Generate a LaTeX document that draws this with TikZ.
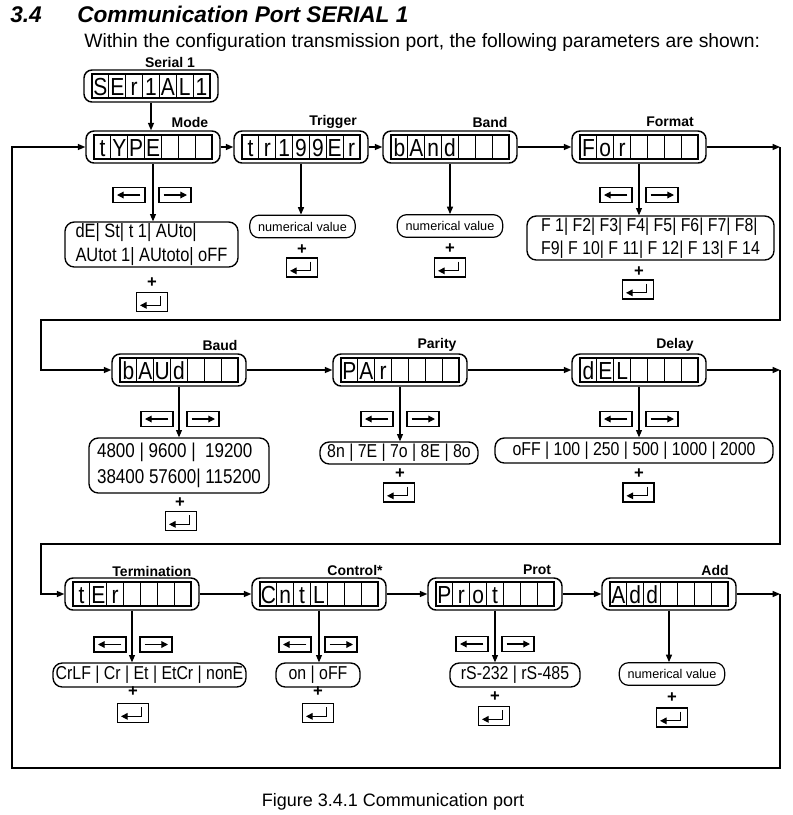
\documentclass[tikz,border=0pt]{standalone}
\usepackage{fontspec}
\setmainfont{Liberation Sans}
\newfontfamily\segfont[FakeStretch=0.85]{Liberation Sans}
\usetikzlibrary{arrows.meta}

\tikzset{
 arr/.style={-{Triangle[length=5.5pt,width=4.5pt]}, line width=0.9pt},
 dispbox/.style={draw, line width=1.1pt, rounded corners=6pt, minimum width=100.5pt, minimum height=24pt, inner sep=0pt},
 segchar/.style={anchor=base, inner sep=0pt, font=\segfont\fontsize{18.5}{19}\selectfont},
 optbox/.style={draw, line width=1pt, rounded corners=7pt, inner sep=1pt, align=left, font=\segfont\fontsize{14}{17}\selectfont},
 numbox/.style={draw, line width=0.9pt, rounded corners=7pt, minimum width=79pt, minimum height=17pt, inner sep=1pt, font=\fontsize{9.5}{11}\selectfont},
 lbl/.style={font=\bfseries\fontsize{10.5}{12}\selectfont, inner sep=0pt},
 plus/.style={font=\bfseries\fontsize{12.5}{12}\selectfont, inner sep=0pt},
 keybox/.style={draw, line width=0.9pt, minimum width=24pt, minimum height=11.25pt, inner sep=0pt},
 entbox/.style={draw, line width=0.9pt, minimum width=23.25pt, minimum height=14.25pt, inner sep=0pt},
 keyarr/.style={-{Triangle[length=5pt,width=5pt]}, line width=0.9pt},
}

% display with 7 cells
\newcommand\disp[9]{%
 \node[dispbox] (#1) at (#2) {};
 \begin{scope}[shift={(#2)}]
  \draw[line width=0.9pt] (-59,-12) rectangle (59,12);
  \foreach \k in {1,...,6} {\draw[line width=0.9pt] ({-59+\k*118/7},-12) -- ({-59+\k*118/7},12);}
  \node[segchar] at (-50.57,9.5) {#3};
  \node[segchar] at (-33.71,9.5) {#4};
  \node[segchar] at (-16.86,9.5) {#5};
  \node[segchar] at (0,9.5) {#6};
  \node[segchar] at (16.86,9.5) {#7};
  \node[segchar] at (33.71,9.5) {#8};
  \node[segchar] at (50.57,9.5) {#9};
 \end{scope}}
\newcommand\lkey[2]{%
 \node[keybox] (#1) at (#2) {};
 \draw[keyarr] ([xshift=8.5pt]#1.center) -- ([xshift=-9pt]#1.center);}
\newcommand\rkey[2]{%
 \node[keybox] (#1) at (#2) {};
 \draw[keyarr] ([xshift=-8.5pt]#1.center) -- ([xshift=9pt]#1.center);}
\newcommand\enterkey[2]{%
 \node[entbox] (#1) at (#2) {};
 \draw[keyarr] ([xshift=6.5pt,yshift=4.5pt]#1.center) -- ([xshift=6.5pt,yshift=-2.5pt]#1.center) -- ([xshift=-9pt,yshift=-2.5pt]#1.center);}

\begin{document}
\begin{tikzpicture}[x=0.75pt,y=-0.75pt]
\useasboundingbox (0,0) rectangle (793,815);

% headings
\node[anchor=base west, inner sep=0pt, font=\bfseries\itshape\fontsize{17}{20}\selectfont] (secnum) at (10,22) {3.4};
\node[anchor=base west, inner sep=0pt, font=\bfseries\itshape\fontsize{17}{20}\selectfont] (title) at (77,22) {Communication Port SERIAL 1};
\node[anchor=base west, inner sep=0pt, font=\fontsize{14.5}{17}\selectfont] (intro) at (84,47) {Within the configuration transmission port, the following parameters are shown:};
\node[anchor=base, inner sep=0pt, font=\fontsize{13.5}{16}\selectfont] (caption) at (393,806) {Figure 3.4.1 Communication port};

% labels
\node[lbl] (lserial) at (170,62) {Serial 1};
\node[lbl] (lmode) at (190,122) {Mode};
\node[lbl] (ltrig) at (333,122) {Trigger};
\node[lbl] (lband) at (490,122) {Band};
\node[lbl] (lform) at (670,122) {Format};
\node[lbl] (lbaud) at (220,345) {Baud};
\node[lbl] (lpar) at (437,345) {Parity};
\node[lbl] (ldel) at (675,345) {Delay};
\node[lbl] (lterm) at (152,571) {Termination};
\node[lbl] (lctrl) at (355,570) {Control*};
\node[lbl] (lprot) at (537,570) {Prot};
\node[lbl] (ladd) at (715,570) {Add};

% displays
\disp{serial}{151,86}{S}{E}{r}{1}{A}{L}{1}
\disp{mode}{153,147}{t}{Y}{P}{E}{}{}{}
\disp{trigger}{301,147}{t}{r}{1}{9}{9}{E}{r}
\disp{band}{450,147}{b}{A}{n}{d}{}{}{}
\disp{format}{639,147}{F}{o}{r}{}{}{}{}
\disp{baud}{179,370}{b}{A}{U}{d}{}{}{}
\disp{parity}{400,370}{P}{A}{r}{}{}{}{}
\disp{delay}{639,370}{d}{E}{L}{}{}{}{}
\disp{term}{132,594}{t}{E}{r}{}{}{}{}
\disp{control}{319,594}{C}{n}{t}{L}{}{}{}
\disp{prot}{495,594}{P}{r}{o}{t}{}{}{}
\disp{add}{669,594}{A}{d}{d}{}{}{}{}

% option boxes
\node[optbox, minimum width=129.75pt, minimum height=33.75pt, font=\segfont\fontsize{14.5}{18}\selectfont] (modeopt) at (151.5,244.5) {dE| St| t 1| AUto|\\AUtot 1| AUtoto| oFF};
\node[numbox] (trigopt) at (302.5,226.5) {numerical value};
\node[numbox] (bandopt) at (450,226) {numerical value};
\node[optbox, minimum width=185.25pt, minimum height=33pt] (formopt) at (650.5,238) {F 1| F2| F3| F4| F5| F6| F7| F8|\\F9| F 10| F 11| F 12| F 13| F 14};
\node[optbox, minimum width=135pt, minimum height=41.25pt, font=\segfont\fontsize{15}{20}\selectfont] (baudopt) at (179,465.5) {4800 | 9600 | \ 19200\\38400 57600| 115200};
\node[optbox, minimum width=118.5pt, minimum height=16.5pt] (paropt) at (399,453) {8n | 7E | 7o | 8E | 8o};
\node[optbox, minimum width=208.5pt, minimum height=18.75pt] (delopt) at (634,450.5) {oFF | 100 | 250 | 500 | 1000 | 2000};
\node[optbox, minimum width=144.75pt, minimum height=18pt] (termopt) at (149.5,675) {CrLF | Cr | Et | EtCr | nonE};
\node[optbox, minimum width=63pt, minimum height=18pt] (ctrlopt) at (318,675) {on | oFF};
\node[optbox, minimum width=97.5pt, minimum height=18pt] (protopt) at (515,675) {rS-232 | rS-485};
\node[numbox] (addopt) at (672,674) {numerical value};

% arrow keys
\lkey{modeL}{129,195} \rkey{modeR}{175,195}
\lkey{formL}{616,195} \rkey{formR}{662,195}
\lkey{baudL}{157,419} \rkey{baudR}{203,419}
\lkey{parL}{377,419} \rkey{parR}{423,419}
\lkey{delL}{616,419} \rkey{delR}{662,419}
\lkey{termL}{110,644.5} \rkey{termR}{156,644.5}
\lkey{ctrlL}{295,644.5} \rkey{ctrlR}{341,644.5}
\lkey{protL}{472,644} \rkey{protR}{518,644}

% plus signs and enter keys
\node[plus] (modeP) at (152,283) {+};   \enterkey{modeE}{152,302}
\node[plus] (trigP) at (302,250) {+};   \enterkey{trigE}{302,267.5}
\node[plus] (bandP) at (450,249) {+};   \enterkey{bandE}{450,267.5}
\node[plus] (formP) at (639,272) {+};   \enterkey{formE}{638,289.5}
\node[plus] (baudP) at (180,503) {+};   \enterkey{baudE}{181,521}
\node[plus] (parP) at (400,474) {+};    \enterkey{parE}{399,492.5}
\node[plus] (delP) at (639,474) {+};    \enterkey{delE}{638.5,492.5}
\node[plus] (termP) at (133,692) {+};   \enterkey{termE}{133,713}
\node[plus] (ctrlP) at (318,692) {+};   \enterkey{ctrlE}{318,713}
\node[plus] (protP) at (495,697) {+};   \enterkey{protE}{494,716}
\node[plus] (addP) at (672,698) {+};    \enterkey{addE}{672,717.5}

% down arrows
\draw[arr] (serial.south) -- (serial.south |- mode.north);
\draw[arr] (mode) -- (mode |- modeopt.north);
\draw[arr] (trigger) -- (trigger |- trigopt.north);
\draw[arr] (band) -- (band |- bandopt.north);
\draw[arr] (format) -- (format |- formopt.north);
\draw[arr] (baud) -- (baud |- baudopt.north);
\draw[arr] (parity) -- (parity |- paropt.north);
\draw[arr] (delay) -- (delay |- delopt.north);
\draw[arr] (term) -- (term |- termopt.north);
\draw[arr] (control) -- (control |- ctrlopt.north);
\draw[arr] (prot) -- (prot |- protopt.north);
\draw[arr] (add) -- (add |- addopt.north);

% flow connectors
\coordinate (r1) at (780,147);
\coordinate (r2) at (780,370);
\coordinate (r3) at (780,594);
\coordinate (t1) at (41,320);
\coordinate (t2) at (41,544);
\coordinate (b3) at (12,768);
\draw[arr] (mode) -- (trigger);
\draw[arr] (trigger) -- (band);
\draw[arr] (band) -- (format);
\draw[arr] (format) -- (r1);
\draw[arr] (r1) -- (r1 |- t1) -- (t1) |- (baud);
\draw[arr] (baud) -- (parity);
\draw[arr] (parity) -- (delay);
\draw[arr] (delay) -- (r2);
\draw[arr] (r2) -- (r2 |- t2) -- (t2) |- (term);
\draw[arr] (term) -- (control);
\draw[arr] (control) -- (prot);
\draw[arr] (prot) -- (add);
\draw[arr] (add) -- (r3);
\draw[arr] (r3) -- (r3 |- b3) -- (b3) |- (mode);
\end{tikzpicture}
\end{document}
